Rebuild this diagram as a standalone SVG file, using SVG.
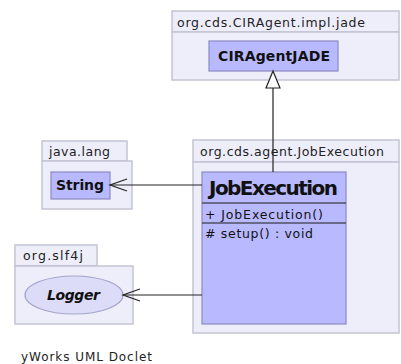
<svg xmlns="http://www.w3.org/2000/svg" width="401" height="364" viewBox="0 0 401 364">
<defs>
<style>
.pkg{fill:#eeeefb;stroke:#c4c4d4;stroke-width:1.5}
.cls{fill:#b9b9ff;stroke:#8a8ac4;stroke-width:1.2}
.plab{font-family:"DejaVu Sans",sans-serif;font-size:12.5px;fill:#222}
.cname{font-family:"DejaVu Sans",sans-serif;font-weight:bold;fill:#111}
.mem{font-family:"DejaVu Sans",sans-serif;font-size:12.5px;fill:#111}
.edge{stroke:#222;stroke-width:1.2;fill:none}
</style>
</defs>
<rect width="401" height="364" fill="#ffffff"/>
<g id="pkg-impl-jade">
<rect class="pkg" x="172" y="11" width="227" height="21"/>
<rect class="pkg" x="172" y="32" width="227" height="48"/>
<text class="plab" x="177" y="27" textLength="188">org.cds.CIRAgent.impl.jade</text>
</g>
<g id="pkg-java-lang">
<rect class="pkg" x="42" y="141" width="85" height="20"/>
<rect class="pkg" x="42" y="161" width="90" height="48"/>
<text class="plab" x="49" y="156" textLength="61">java.lang</text>
</g>
<g id="pkg-agent">
<rect class="pkg" x="193" y="140" width="206" height="22"/>
<rect class="pkg" x="193" y="162" width="206" height="171"/>
<text class="plab" x="200" y="156" textLength="184">org.cds.agent.JobExecution</text>
</g>
<g id="pkg-slf4j">
<rect class="pkg" x="15" y="245" width="82" height="21"/>
<rect class="pkg" x="15" y="266" width="118" height="58"/>
<text class="plab" x="23" y="260" textLength="60">org.slf4j</text>
</g>
<g id="CIRAgentJADE">
<rect class="cls" x="209" y="41" width="129" height="30"/>
<text class="cname" x="218" y="61" font-size="14" textLength="112">CIRAgentJADE</text>
</g>
<g id="String">
<rect class="cls" x="51" y="172" width="59" height="27"/>
<text class="cname" x="56" y="190" font-size="14" textLength="48">String</text>
</g>
<g id="JobExecution">
<rect class="cls" x="202" y="172" width="144" height="152"/>
<line class="cls" x1="202" y1="203" x2="346" y2="203"/>
<line class="cls" x1="202" y1="223" x2="346" y2="223"/>
<line x1="202" y1="203" x2="346" y2="203" stroke="#333" stroke-width="1"/>
<line x1="202" y1="223" x2="346" y2="223" stroke="#333" stroke-width="1"/>
<text class="cname" x="209" y="195" font-size="20" textLength="129">JobExecution</text>
<text class="mem" x="205" y="219" textLength="118">+  JobExecution()</text>
<text class="mem" x="205" y="238" textLength="108">#  setup() : void</text>
</g>
<g id="Logger">
<ellipse cx="74" cy="295" rx="49" ry="19" fill="#dcdcf8" stroke="#a4a4c8" stroke-width="1.2"/>
<text class="cname" x="47" y="300" font-size="14" font-style="italic" textLength="53">Logger</text>
</g>
<g id="connectors">
<line class="edge" x1="273" y1="172" x2="273" y2="88"/>
<polygon points="273,71 266,88 280,88" fill="#ffffff" stroke="#222" stroke-width="1.2"/>
<line class="edge" x1="202" y1="185" x2="110" y2="185"/>
<polyline class="edge" points="127,179 110,185 127,191"/>
<line class="edge" x1="202" y1="295" x2="123" y2="295"/>
<polyline class="edge" points="140,289 123,295 140,301"/>
</g>
<text x="21" y="361" font-family="DejaVu Sans, sans-serif" font-size="12" fill="#222" textLength="131">yWorks UML Doclet</text>
</svg>
